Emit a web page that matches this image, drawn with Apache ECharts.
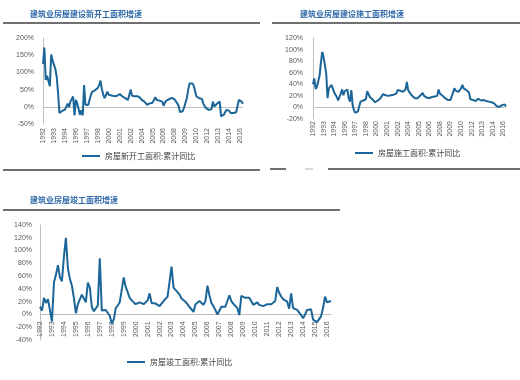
<!DOCTYPE html>
<html><head><meta charset="utf-8">
<script src="https://cdn.jsdelivr.net/npm/echarts@6/dist/echarts.min.js"></script>
<style>html,body{margin:0;padding:0;background:#fff}#c{width:520px;height:380px}</style>
</head><body><div id="c"></div>
<script>
// bimonthly observations, 1992-01 ... 2016-05 (147 points), % YoY cumulative
const startsYoY = [
125,172,78,90,94,60,152,135,132,110,88,40,-18,-14,-12,-10,-8,-4,9,-1,
15,12,30,-25,20,10,12,-23,-10,-25,63,6,6,5,2,35,44,46,48,51,
55,63,76,51,35,25,20,44,35,34,33,32,31,30,32,35,37,33,30,28,
25,22,20,22,50,32,30,31,30,31,32,26,20,18,15,10,6,2,10,11,
12,14,28,20,19,18,16,15,3,12,18,20,22,24,26,28,22,18,10,3,
-15,-16,-13,-2,12,25,50,68,73,68,62,58,30,26,25,24,23,10,2,-4,
-8,-9,-8,-7,15,1,5,9,12,15,-28,-25,-23,-15,-9,-4,-12,-18,-18,-18,
-17,-16,-14,20,22,15,9];
const underConstructionYoY = [
40,50,32,36,39,55,78,96,87,73,59,16,33,36,39,36,26,24,18,12,
11,24,31,21,28,31,31,16,10,30,4,-5,-9,-9,-7,2,10,11,12,12,
14,28,23,18,16,14,13,9,8,12,14,16,18,23,20,21,21,20,20,21,
20,22,23,24,30,28,29,28,27,30,31,44,30,26,23,20,18,16,17,16,
17,20,22,25,20,18,17,16,16,17,18,18,19,20,20,31,24,21,20,18,
16,14,13,12,13,13,26,33,29,28,27,30,33,39,33,31,30,28,26,14,
13,13,12,11,13,15,13,12,12,13,12,11,11,10,10,9,8,7,5,2,
1,1,2,4,6,5,2];
const completedYoY = [
12,6,26,18,24,26,-11,50,62,77,58,52,90,120,72,56,45,26,2,16,
19,31,25,19,50,42,12,5,8,14,88,6,3,7,5,-2,-14,-8,10,14,
19,17,58,43,35,26,22,20,16,15,19,20,16,17,22,33,18,19,17,16,
13,17,21,24,28,30,75,42,39,35,31,25,22,20,18,12,10,4,16,17,
21,19,15,21,45,30,18,13,7,0,0,12,14,12,12,30,21,17,15,10,
-1,29,28,26,26,26,25,15,14,19,15,15,13,10,16,16,16,19,21,43,
34,28,24,21,20,9,33,10,8,7,5,-1,-6,0,7,8,8,-8,-11,-12,
-10,-3,10,28,19,21,21];

const titles = ['建筑业房屋建设新开工面积增速', '建筑业房屋建设施工面积增速', '建筑业房屋竣工面积增速'];
const seriesNames = ['房屋新开工面积:累计同比', '房屋施工面积:累计同比', '房屋竣工面积:累计同比'];
const yRanges = [[-50, 200, 50], [-20, 120, 20], [-40, 140, 20]];
const firstYear = 1992, lastYear = 2016, monthsPerStep = 2;

const categories = [];
for (let y = firstYear; y <= lastYear; y++) {
  for (let m = 1; m <= 12; m += monthsPerStep) {
    if (categories.length < startsYoY.length) categories.push(y + '-' + String(m).padStart(2, '0'));
  }
}

const LINE = '#1b6598';
const AXIS = '#bfbfbf';
const TXT = '#595959';
const NUMFONT = 'Liberation Sans, Arial, sans-serif';
const CJK = 'Noto Sans CJK SC, sans-serif';

const grids = [
  {left: 43, top: 38, width: 200, height: 86},
  {left: 313, top: 38, width: 193, height: 81},
  {left: 40, top: 225, width: 291, height: 115}
];
const labelIntervals = [7, 7, 5];
const labelMargins = [4, 2, 7];
const yMargins = [9, 10, 8];
const axisAtZero = [false, false, true];
const allData = [startsYoY, underConstructionYoY, completedYoY];

const xAxes = grids.map((g, i) => {
  const r = yRanges[i];
  const zeroOffset = axisAtZero[i] ? -g.height * (0 - r[0]) / (r[1] - r[0]) : 0;
  return {
    type: 'category', gridIndex: i, data: categories, boundaryGap: false,
    position: 'bottom', offset: zeroOffset,
    axisLine: {show: axisAtZero[i], onZero: false, lineStyle: {color: AXIS, width: 1}},
    axisTick: {show: false},
    axisLabel: {interval: labelIntervals[i], rotate: 90, margin: labelMargins[i], fontSize: 7,
      color: TXT, fontFamily: NUMFONT, formatter: v => v.slice(0, 4)}
  };
});
const yAxes = grids.map((g, i) => ({
  type: 'value', gridIndex: i, min: yRanges[i][0], max: yRanges[i][1], interval: yRanges[i][2],
  axisLine: {show: true, lineStyle: {color: AXIS, width: 1}},
  axisTick: {show: false}, splitLine: {show: false},
  axisLabel: {formatter: '{value}%', fontSize: 7, color: TXT, margin: yMargins[i], fontFamily: NUMFONT}
}));
const series = allData.map((d, i) => {
  const s = {
    type: 'line', name: seriesNames[i], xAxisIndex: i, yAxisIndex: i, data: d,
    symbol: 'none', showSymbol: false, silent: true, z: 3,
    lineStyle: {color: LINE, width: 2}, itemStyle: {color: LINE}
  };
  if (!axisAtZero[i]) {
    s.markLine = {silent: true, symbol: 'none', label: {show: false}, z: 1,
      lineStyle: {color: AXIS, type: 'solid', width: 1}, emphasis: {disabled: true},
      data: [{yAxis: 0}]};
  }
  return s;
});

const titleStyle = {fontSize: 8, fontWeight: 'bold', color: '#2e6aa8', fontFamily: CJK};
const legendText = {fontSize: 8, color: '#404040', fontFamily: CJK};
const legendPos = [[82, 152], [355, 149], [127, 358]];

const option = {
  animation: false,
  backgroundColor: '#fff',
  grid: grids,
  xAxis: xAxes,
  yAxis: yAxes,
  series: series,
  title: [
    {text: titles[0], left: 30, top: 10, padding: 0, textStyle: titleStyle},
    {text: titles[1], left: 300, top: 10, padding: 0, textStyle: titleStyle},
    {text: titles[2], left: 30, top: 196, padding: 0, textStyle: titleStyle}
  ],
  legend: seriesNames.map((n, i) => ({
    data: [n], left: legendPos[i][0], top: legendPos[i][1], padding: 0,
    icon: 'rect', itemWidth: 18, itemHeight: 2, selectedMode: false,
    textStyle: legendText
  })),
  graphic: [
    {type: 'line', shape: {x1: 3, y1: 23, x2: 260, y2: 23}, style: {stroke: '#404040', lineWidth: 1.5}},
    {type: 'line', shape: {x1: 3, y1: 170, x2: 260, y2: 170}, style: {stroke: '#404040', lineWidth: 1.5}},
    {type: 'line', shape: {x1: 272, y1: 23, x2: 520, y2: 23}, style: {stroke: '#404040', lineWidth: 1.5}},
    {type: 'line', shape: {x1: 270, y1: 169, x2: 286, y2: 169}, style: {stroke: '#404040', lineWidth: 1.5}},
    {type: 'line', shape: {x1: 305, y1: 169, x2: 313, y2: 169}, style: {stroke: '#b0b0b0', lineWidth: 1}},
    {type: 'line', shape: {x1: 328, y1: 169, x2: 520, y2: 169}, style: {stroke: '#404040', lineWidth: 1.5}},
    {type: 'line', shape: {x1: 3, y1: 210, x2: 340, y2: 210}, style: {stroke: '#404040', lineWidth: 1.5}}
  ]
};
const chart = echarts.init(document.getElementById('c'), null, {renderer: 'canvas'});
chart.setOption(option);
</script>
</body></html>
